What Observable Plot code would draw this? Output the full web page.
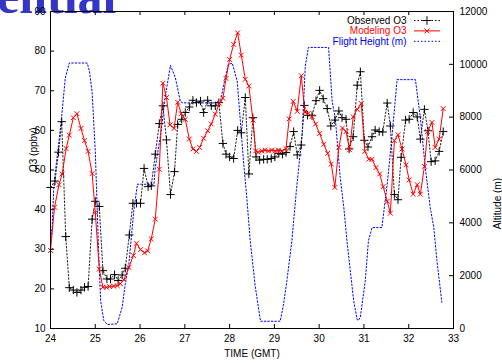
<!DOCTYPE html>
<html>
<head>
<meta charset="utf-8">
<script src="https://cdn.jsdelivr.net/npm/d3@7"></script>
<script src="https://cdn.jsdelivr.net/npm/@observablehq/plot@0.6"></script>
<style>
  html, body { margin: 0; padding: 0; background: white; }
  #wrap { position: relative; width: 502px; height: 363px; overflow: hidden; }
  #title { position: absolute; left: 0; top: 0; z-index: 0; }
  #chart { position: absolute; left: 0; top: 0; z-index: 1; }
  #legend { position: absolute; left: 0; top: 0; z-index: 2; }
</style>
</head>
<body>
<div id="wrap">
  <svg id="title" width="502" height="60">
    <text x="-3" y="12.7" font-family="Liberation Serif, Times New Roman, serif" font-weight="bold" font-size="50" fill="#3535c8">ential</text>
  </svg>
  <div id="chart"></div>
  <svg id="legend" width="502" height="60"></svg>
</div>
<script>
// ---- data ----
const xTicks = [24, 25, 26, 27, 28, 29, 30, 31, 32, 33];
const yTicks = [10, 20, 30, 40, 50, 60, 70, 80, 90];
const altTicks = [0, 2000, 4000, 6000, 8000, 10000, 12000];

const obsTime = [24.00,24.10,24.18,24.25,24.34,24.42,24.51,24.59,24.68,24.76,24.84,24.93,25.00,25.09,25.17,25.26,25.34,25.43,25.51,25.60,25.67,25.76,25.84,25.92,26.01,26.09,26.18,26.25,26.34,26.43,26.51,26.59,26.68,26.77,26.84,26.93,27.01,27.10,27.18,27.26,27.35,27.42,27.51,27.59,27.68,27.76,27.85,27.92,28.00,28.09,28.18,28.26,28.35,28.43,28.52,28.59,28.67,28.76,28.84,28.93,29.01,29.10,29.18,29.26,29.35,29.43,29.51,29.60,29.67,29.74,29.84,29.93,30.01,30.09,30.18,30.26,30.35,30.44,30.51,30.60,30.67,30.76,30.85,30.92,31.01,31.09,31.18,31.25,31.34,31.42,31.52,31.59,31.68,31.76,31.83,31.93,32.01,32.10,32.19,32.26,32.35,32.43,32.50,32.59,32.68,32.77];
const obsO3 = [45.6,47.2,54.5,62.2,33.2,20.3,19.7,19.1,19.7,20.4,20.6,37.6,42.1,40.8,24.6,22.5,22.5,23.6,22.1,23.5,25.2,33.6,41.6,41.6,41.6,50.4,45.8,46.0,54.0,61.7,66.2,57.6,43.8,49.6,61.5,62.8,64.5,65.9,67.6,67.0,67.4,64.5,67.6,66.2,66.2,67.0,56.7,54.0,53.3,52.9,60.0,59.4,68.3,49.0,63.2,53.3,52.5,52.7,52.7,52.9,53.3,54.2,54.0,54.4,55.9,59.7,53.8,56.3,66.3,63.8,63.7,67.5,70.1,68.0,65.5,61.1,62.6,64.9,63.2,62.8,55.3,58.4,71.4,74.8,57.5,55.8,58.4,60.1,59.7,59.6,66.9,61.1,43.8,42.5,53.2,62.6,62.8,64.5,63.4,57.8,65.3,59.9,52.1,52.3,54.7,59.7];

const modTime = [24.00,24.09,24.19,24.26,24.35,24.42,24.51,24.59,24.68,24.76,24.84,24.93,25.00,25.09,25.17,25.25,25.32,25.41,25.49,25.56,25.64,25.75,25.85,25.92,26.01,26.10,26.17,26.25,26.34,26.43,26.51,26.59,26.67,26.76,26.84,26.92,27.01,27.10,27.18,27.26,27.33,27.42,27.51,27.59,27.68,27.77,27.85,27.92,28.00,28.09,28.18,28.26,28.35,28.43,28.52,28.58,28.64,28.72,28.79,28.87,28.94,29.02,29.09,29.17,29.26,29.33,29.42,29.51,29.60,29.68,29.76,29.84,29.92,30.01,30.10,30.19,30.27,30.35,30.44,30.52,30.60,30.68,30.76,30.85,30.94,31.02,31.11,31.18,31.27,31.35,31.43,31.52,31.59,31.68,31.76,31.85,31.94,32.01,32.10,32.19,32.26,32.35,32.42,32.52,32.59,32.68,32.77];
const modO3 = [29.7,40.6,46.3,49.0,55.4,58.8,63.2,64.2,60.5,57.4,54.7,49.1,39.3,25.0,20.4,20.4,20.6,20.7,20.8,21.3,22.3,25.4,28.4,31.5,29.9,29.1,29.6,32.6,37.6,50.2,71.9,68.3,61.4,60.5,67.1,64.2,62.8,57.8,55.3,54.7,55.7,58.0,59.9,61.6,64.1,66.8,68.1,73.1,77.9,81.7,84.6,79.0,72.9,71.2,62.6,54.8,54.5,54.8,55.0,54.8,55.0,54.8,55.0,54.8,55.4,62.9,67.3,64.8,73.8,64.6,64.3,63.5,61.6,59.2,56.5,54.2,51.5,45.6,55.7,60.6,59.7,55.1,63.4,65.3,66.8,54.7,52.7,52.7,50.6,49.0,45.8,42.1,39.1,57.4,58.9,55.3,51.3,47.5,43.9,46.3,43.9,50.9,59.7,62.0,55.7,57.8,65.5];

const flightTime = [24.00,24.04,24.07,24.11,24.19,24.25,24.33,24.42,24.82,24.87,24.93,25.00,25.08,25.12,25.19,25.27,25.49,25.60,25.67,25.75,25.86,25.94,26.31,26.34,26.46,26.57,26.68,26.79,26.90,26.95,27.79,27.87,27.97,28.06,28.17,28.24,28.31,28.39,28.46,28.57,28.69,29.13,29.20,29.28,29.39,29.49,29.62,29.69,29.76,30.21,30.29,30.36,30.47,30.55,30.62,30.77,30.85,30.87,30.92,31.03,31.10,31.18,31.40,31.52,31.63,31.74,32.15,32.26,32.37,32.48,32.56,32.63,32.74];
const flightAlt = [3300,3890,5210,5960,7100,8040,9480,10050,10050,9740,8920,6720,2690,1057,302,150,177,800,1690,2440,4450,5460,5460,6090,7350,8860,9960,9480,8600,8540,8540,9240,10000,10040,9360,7850,6340,4830,3320,1620,275,275,870,1810,3320,5210,7350,9930,10640,10640,8600,7970,5710,4590,3320,1057,328,300,426,1810,3320,3820,3820,5460,7350,9420,9420,7970,6090,4580,3820,2570,993];

// ---- tables ----
const observed = obsTime.map((t, i) => ({time: t, o3: obsO3[i]}));
const modeled = modTime.map((t, i) => ({time: t, o3: modO3[i]}));
const flight = flightTime.map((t, i) => ({time: t, alt: flightAlt[i]}));

// secondary (altitude) axis mapped onto the O3 scale: 0..12000 m <-> 10..90 ppbv
const altToY = a => 10 + a * 80 / 12000;
const yToAlt = y => Math.round((y - 10) * 12000 / 80);

const chart = Plot.plot({
  width: 502,
  height: 363,
  marginLeft: 50,
  marginRight: 49,
  marginTop: 11,
  marginBottom: 35,
  style: {background: "transparent", color: "black", fontFamily: "Liberation Sans, Arial, sans-serif", fontSize: "10px"},
  x: {domain: [24, 33]},
  y: {domain: [10, 90]},
  marks: [
    // lines
    Plot.line(flight, {x: "time", y: d => altToY(d.alt), stroke: "#0000ff", strokeWidth: 1, strokeDasharray: "1.5,2"}),
    Plot.line(observed, {x: "time", y: "o3", stroke: "#222", strokeWidth: 1, strokeDasharray: "1.5,2"}),
    Plot.dot(observed, {x: "time", y: "o3", symbol: "plus", r: 2.8, stroke: "black", strokeWidth: 1}),
    Plot.line(modeled, {x: "time", y: "o3", stroke: "#ff0000", strokeWidth: 1}),
    Plot.dot(modeled, {x: "time", y: "o3", symbol: "times", r: 2.3, stroke: "#ff0000", strokeWidth: 1}),
    // inward tick marks (gnuplot style)
    Plot.tickY(yTicks, {y: d => d, insetRight: 399, stroke: "black"}),
    Plot.tickY(altTicks, {y: d => altToY(d), insetLeft: 399, stroke: "black"}),
    Plot.tickX(xTicks, {x: d => d, insetTop: 313, stroke: "black"}),
    Plot.tickX(xTicks, {x: d => d, insetBottom: 313, stroke: "black"}),
    // axes labels
    Plot.axisX({ticks: xTicks, tickSize: 0, tickPadding: 6, tickFormat: d => String(d), label: null}),
    Plot.axisY({ticks: yTicks, tickSize: 0, tickPadding: 5, tickFormat: d => String(d), label: null}),
    Plot.axisY({anchor: "right", ticks: altTicks.map(altToY), tickSize: 0, tickPadding: 6, tickFormat: d => String(yToAlt(d)), label: null}),
    Plot.frame({stroke: "black", strokeWidth: 1}),
    Plot.text(["O3 (ppbv)"], {frameAnchor: "left", rotate: -90, dx: -17, dy: 2, fill: "black"}),
    Plot.text(["Altitude (m)"], {frameAnchor: "right", rotate: -90, dx: 44, dy: 8, fill: "black"}),
    Plot.text(["TIME (GMT)"], {frameAnchor: "bottom", dy: 28, fill: "black"})
  ]
});
document.getElementById("chart").appendChild(chart);

// ---- legend (inside top-right of the frame, gnuplot style) ----
const legendItems = [
  {label: "Observed O3", color: "black", dash: "1.5,2", symbol: d3.symbolPlus, size: 26},
  {label: "Modeling O3", color: "#ff0000", dash: null, symbol: d3.symbolTimes, size: 18},
  {label: "Flight Height (m)", color: "#0000ff", dash: "1.5,2", symbol: null, size: 0}
];
const lg = d3.select("#legend");
legendItems.forEach((it, i) => {
  const cy = 20.5 + i * 10.4;
  lg.append("text")
    .attr("x", 406.5).attr("y", cy).attr("dy", "0.35em")
    .attr("text-anchor", "end")
    .attr("font-family", "Liberation Sans, Arial, sans-serif")
    .attr("font-size", 10)
    .attr("fill", it.color)
    .text(it.label);
  const ln = lg.append("line")
    .attr("x1", 414).attr("x2", 440).attr("y1", cy).attr("y2", cy)
    .attr("stroke", it.color).attr("stroke-width", 1);
  if (it.dash) ln.attr("stroke-dasharray", it.dash);
  if (it.symbol) {
    lg.append("path")
      .attr("d", d3.symbol(it.symbol, it.size)())
      .attr("transform", `translate(427,${cy})`)
      .attr("fill", "none").attr("stroke", it.color).attr("stroke-width", 1);
  }
});
</script>
</body>
</html>
